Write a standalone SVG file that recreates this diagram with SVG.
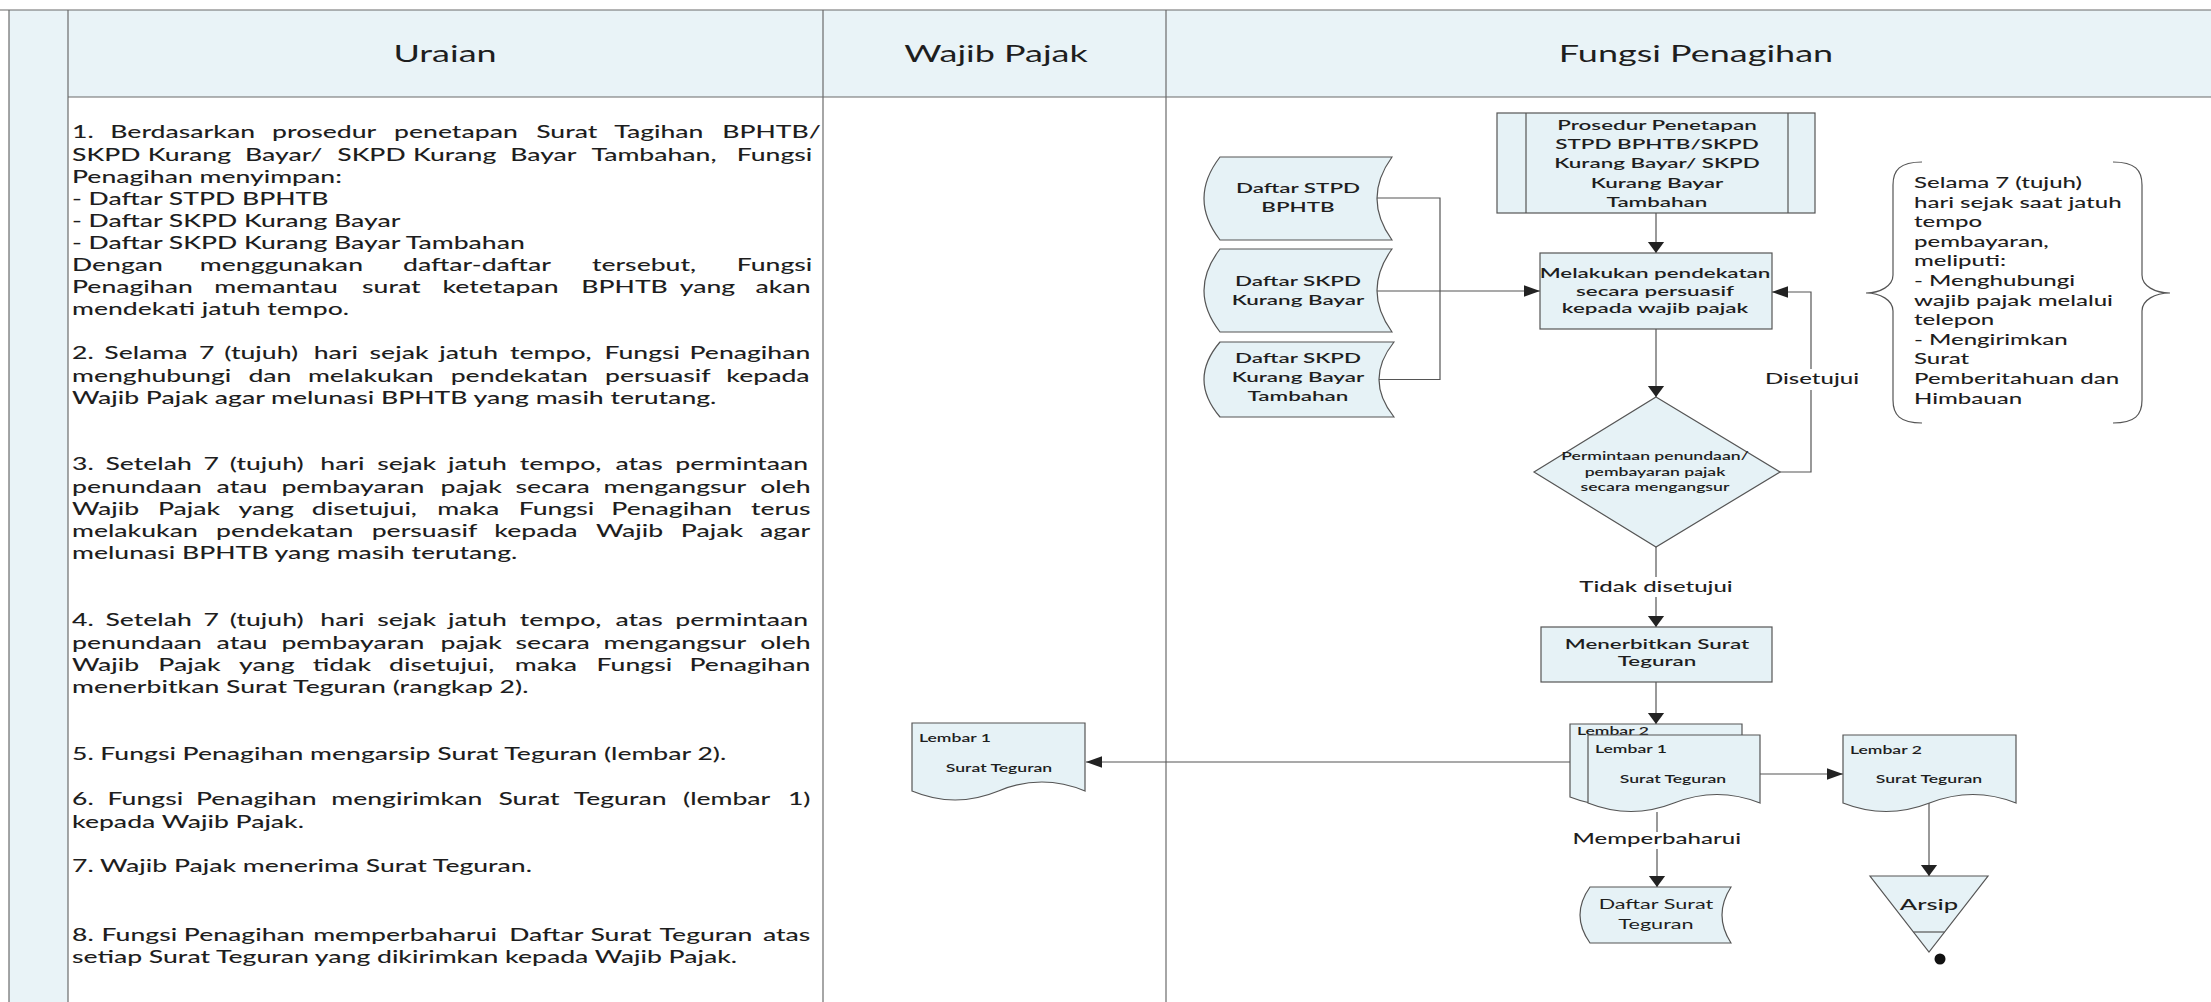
<svg xmlns="http://www.w3.org/2000/svg" width="2211" height="1002" viewBox="0 0 2211 1002">
<defs>
<style>
text { font-family: Lato, "Open Sans", "Liberation Sans", sans-serif; fill: #1e1e1e; }
/* every label is drawn in a horizontally widened face */
.t { transform: scale(1.6, 1); }
.hd { font-size: 22.5px; text-anchor: middle; }
.bd { font-size: 16.6px; font-weight: 500; }
.nd { font-size: 14px; font-weight: 600; text-anchor: middle; }
.sm { font-size: 11px; font-weight: 600; }
.dm { font-size: 11px; font-weight: 600; text-anchor: middle; }
.lb { font-size: 15px; font-weight: 500; text-anchor: middle; }
.nt { font-size: 15px; font-weight: 500; }
.ds { font-size: 13.5px; text-anchor: middle; }
.ar { font-size: 16px; font-weight: 500; text-anchor: middle; }
.mid { text-anchor: middle; }
.shape { fill: #e6f2f6; stroke: #555; stroke-width: 1.2; }
.ln { fill: none; stroke: #555; stroke-width: 1.2; }
.grid { fill: none; stroke: #6b6b6b; stroke-width: 1.2; }
</style>
<marker id="ahV" markerUnits="userSpaceOnUse" viewBox="0 -9 12 18" markerWidth="12" markerHeight="18" refX="11.5" refY="0" orient="auto">
<path d="M0,-8.5 L11.5,0 L0,8.5 Z" fill="#222"/>
</marker>
<marker id="ahH" markerUnits="userSpaceOnUse" viewBox="0 -6 16 12" markerWidth="16" markerHeight="12" refX="16" refY="0" orient="auto">
<path d="M0,-5.8 L16,0 L0,5.8 Z" fill="#222"/>
</marker>
</defs>

<rect width="2211" height="1002" fill="#fff"/>

<!-- table frame: header band, left margin strip, rules -->
<g id="table">
<rect x="68" y="10" width="2143" height="87" fill="#e9f3f7"/>
<rect x="9" y="10" width="59" height="992" fill="#e9f3f7"/>
<line x1="9" y1="10" x2="9" y2="1002" class="grid" stroke-width="1"/>
<line x1="68" y1="10" x2="68" y2="1002" class="grid" stroke-width="1"/>
<line x1="823" y1="10" x2="823" y2="1002" class="grid" stroke="#7d5a5a"/>
<line x1="1166" y1="10" x2="1166" y2="1002" class="grid" stroke="#5b6470"/>
<line x1="68" y1="97" x2="2211" y2="97" class="grid" stroke="#555" stroke-width="2"/>
<line x1="0" y1="10" x2="2211" y2="10" class="grid" stroke="#444" stroke-width="2.5"/>
<text class="hd t" x="278.13" y="62">Uraian</text>
<text class="hd t" x="622.5" y="62">Wajib Pajak</text>
<text class="hd t" x="1060" y="62">Fungsi Penagihan</text>
</g>

<!-- procedure description column -->
<g id="uraian">
<text class="bd t" y="138.5"><tspan x="45">1. </tspan><tspan x="68.94">Berdasarkan </tspan><tspan x="170">prosedur </tspan><tspan x="246.31">penetapan </tspan><tspan x="335.13">Surat </tspan><tspan x="383.88">Tagihan </tspan><tspan x="451.38">BPHTB/</tspan></text>
<text class="bd t" y="160.6"><tspan x="45">SKPD </tspan><tspan x="92.31">Kurang </tspan><tspan x="153.13">Bayar/ </tspan><tspan x="210.75">SKPD </tspan><tspan x="258.06">Kurang </tspan><tspan x="318.88">Bayar </tspan><tspan x="369.63">Tambahan, </tspan><tspan x="460.44">Fungsi</tspan></text>
<text class="bd t" x="45" y="182.7">Penagihan menyimpan:</text>
<text class="bd t" x="45" y="204.8">- Daftar STPD BPHTB</text>
<text class="bd t" x="45" y="226.9">- Daftar SKPD Kurang Bayar</text>
<text class="bd t" x="45" y="249">- Daftar SKPD Kurang Bayar Tambahan</text>
<text class="bd t" y="271.1"><tspan x="45">Dengan </tspan><tspan x="124.88">menggunakan </tspan><tspan x="251.88">daftar-daftar </tspan><tspan x="369.94">tersebut, </tspan><tspan x="460.44">Fungsi</tspan></text>
<text class="bd t" y="293.2"><tspan x="45">Penagihan </tspan><tspan x="133.94">memantau </tspan><tspan x="226.31">surat </tspan><tspan x="276.5">ketetapan </tspan><tspan x="363.31">BPHTB </tspan><tspan x="424.81">yang </tspan><tspan x="472.25">akan</tspan></text>
<text class="bd t" x="45" y="315.3">mendekati jatuh tempo.</text>

<text class="bd t" y="359.5"><tspan x="45">2. </tspan><tspan x="65.19">Selama </tspan><tspan x="124.44">7 </tspan><tspan x="140.19">(tujuh) </tspan><tspan x="196.06">hari </tspan><tspan x="231">sejak </tspan><tspan x="274.5">jatuh </tspan><tspan x="318.75">tempo, </tspan><tspan x="377.81">Fungsi </tspan><tspan x="430.94">Penagihan</tspan></text>
<text class="bd t" y="381.6"><tspan x="45">menghubungi </tspan><tspan x="155.25">dan </tspan><tspan x="192.44">melakukan </tspan><tspan x="281.69">pendekatan </tspan><tspan x="378.13">persuasif </tspan><tspan x="453.94">kepada</tspan></text>
<text class="bd t" x="45" y="403.7">Wajib Pajak agar melunasi BPHTB yang masih terutang.</text>

<text class="bd t" y="470.5"><tspan x="45">3. </tspan><tspan x="65.88">Setelah </tspan><tspan x="127.25">7 </tspan><tspan x="143.63">(tujuh) </tspan><tspan x="200.19">hari </tspan><tspan x="235.81">sejak </tspan><tspan x="280">jatuh </tspan><tspan x="324.88">tempo, </tspan><tspan x="384.63">atas </tspan><tspan x="422.06">permintaan</tspan></text>
<text class="bd t" y="492.6"><tspan x="45">penundaan </tspan><tspan x="135.38">atau </tspan><tspan x="175.88">pembayaran </tspan><tspan x="275.31">pajak </tspan><tspan x="322.25">secara </tspan><tspan x="377.13">mengangsur </tspan><tspan x="475.13">oleh</tspan></text>
<text class="bd t" y="514.7"><tspan x="45">Wajib </tspan><tspan x="98.75">Pajak </tspan><tspan x="149.06">yang </tspan><tspan x="194.88">disetujui, </tspan><tspan x="273.25">maka </tspan><tspan x="324.19">Fungsi </tspan><tspan x="382.06">Penagihan </tspan><tspan x="469.38">terus</tspan></text>
<text class="bd t" y="536.8"><tspan x="45">melakukan </tspan><tspan x="135.06">pendekatan </tspan><tspan x="232.31">persuasif </tspan><tspan x="308.94">kepada </tspan><tspan x="372.5">Wajib </tspan><tspan x="425.5">Pajak </tspan><tspan x="475.06">agar</tspan></text>
<text class="bd t" x="45" y="558.9">melunasi BPHTB yang masih terutang.</text>

<text class="bd t" y="626.5"><tspan x="45">4. </tspan><tspan x="65.88">Setelah </tspan><tspan x="127.25">7 </tspan><tspan x="143.63">(tujuh) </tspan><tspan x="200.19">hari </tspan><tspan x="235.81">sejak </tspan><tspan x="280">jatuh </tspan><tspan x="324.88">tempo, </tspan><tspan x="384.63">atas </tspan><tspan x="422.06">permintaan</tspan></text>
<text class="bd t" y="648.6"><tspan x="45">penundaan </tspan><tspan x="135.38">atau </tspan><tspan x="175.88">pembayaran </tspan><tspan x="275.31">pajak </tspan><tspan x="322.25">secara </tspan><tspan x="377.13">mengangsur </tspan><tspan x="475.13">oleh</tspan></text>
<text class="bd t" y="670.7"><tspan x="45">Wajib </tspan><tspan x="98.94">Pajak </tspan><tspan x="149.44">yang </tspan><tspan x="195.44">tidak </tspan><tspan x="243.19">disetujui, </tspan><tspan x="321.75">maka </tspan><tspan x="372.88">Fungsi </tspan><tspan x="430.94">Penagihan</tspan></text>
<text class="bd t" x="45" y="692.8">menerbitkan Surat Teguran (rangkap 2).</text>

<text class="bd t" x="45" y="760">5. Fungsi Penagihan mengarsip Surat Teguran (lembar 2).</text>

<text class="bd t" y="805.5"><tspan x="45">6. </tspan><tspan x="67.25">Fungsi </tspan><tspan x="122.44">Penagihan </tspan><tspan x="207.06">mengirimkan </tspan><tspan x="311.5">Surat </tspan><tspan x="358.56">Teguran </tspan><tspan x="426.88">(lembar </tspan><tspan x="492.44">1)</tspan></text>
<text class="bd t" x="45" y="827.6">kepada Wajib Pajak.</text>

<text class="bd t" x="45" y="871.8">7. Wajib Pajak menerima Surat Teguran.</text>

<text class="bd t" y="941"><tspan x="45">8. </tspan><tspan x="63.5">Fungsi </tspan><tspan x="114.88">Penagihan </tspan><tspan x="195.75">memperbaharui </tspan><tspan x="318.25">Daftar </tspan><tspan x="369">Surat </tspan><tspan x="412.25">Teguran </tspan><tspan x="476.81">atas</tspan></text>
<text class="bd t" x="45" y="963.1">setiap Surat Teguran yang dikirimkan kepada Wajib Pajak.</text>
</g>

<!-- flow connectors and their labels -->
<g id="connectors">
<path class="ln" d="M1377,198 H1440 V379.5 H1379"/>
<path class="ln" d="M1377,291 H1540" marker-end="url(#ahH)"/>
<path class="ln" d="M1656,213 V253" marker-end="url(#ahV)"/>
<path class="ln" d="M1656,329 V397" marker-end="url(#ahV)"/>
<path class="ln" d="M1780,472 H1811 V390"/>
<path class="ln" d="M1811,369 V292 H1772" marker-end="url(#ahH)"/>
<text class="lb t" x="1132.5" y="384">Disetujui</text>
<path class="ln" d="M1656,547 V577"/>
<path class="ln" d="M1656,597 V627" marker-end="url(#ahV)"/>
<text class="lb t" x="1035" y="592">Tidak disetujui</text>
<path class="ln" d="M1656,682 V724" marker-end="url(#ahV)"/>
<path class="ln" d="M1570,762 H1086" marker-end="url(#ahH)"/>
<path class="ln" d="M1760,774 H1843" marker-end="url(#ahH)"/>
<path class="ln" d="M1657,812 V832"/>
<path class="ln" d="M1657,849 V887" marker-end="url(#ahV)"/>
<text class="lb t" x="1035.5" y="844" font-weight="400">Memperbaharui</text>
<path class="ln" d="M1929,803 V876" marker-end="url(#ahV)"/>
</g>

<g id="n-prosedur">
<rect class="shape" x="1497" y="113" width="318" height="100"/>
<line class="ln" x1="1526" y1="113" x2="1526" y2="213"/>
<line class="ln" x1="1788" y1="113" x2="1788" y2="213"/>
<text class="nd t" x="1035.63" y="130">Prosedur Penetapan</text>
<text class="nd t" x="1035.63" y="149.3">STPD BPHTB/SKPD</text>
<text class="nd t" x="1035.63" y="168.3">Kurang Bayar/ SKPD</text>
<text class="nd t" x="1035.63" y="187.7">Kurang Bayar</text>
<text class="nd t" x="1035.63" y="206.7">Tambahan</text>
</g>

<g id="n-daftar-stpd">
<path class="shape" d="M1220,157 H1392 Q1362,198.5 1392,240 H1220 Q1188,198.5 1220,157 Z"/>
<text class="nd t" x="811.25" y="193.5">Daftar STPD</text>
<text class="nd t" x="811.25" y="212">BPHTB</text>
</g>

<g id="n-daftar-skpd-kb">
<path class="shape" d="M1220,249 H1392 Q1362,290.5 1392,332 H1220 Q1188,290.5 1220,249 Z"/>
<text class="nd t" x="811.25" y="286.5">Daftar SKPD</text>
<text class="nd t" x="811.25" y="305">Kurang Bayar</text>
</g>

<g id="n-daftar-skpd-kbt">
<path class="shape" d="M1220,342 H1394 Q1364,379.5 1394,417 H1220 Q1188,379.5 1220,342 Z"/>
<text class="nd t" x="811.25" y="363.5">Daftar SKPD</text>
<text class="nd t" x="811.25" y="382.5">Kurang Bayar</text>
<text class="nd t" x="811.25" y="401.5">Tambahan</text>
</g>

<g id="n-melakukan">
<rect class="shape" x="1540" y="253" width="232" height="76"/>
<text class="nd t" x="1034.38" y="278.5" font-size="13.5">Melakukan pendekatan</text>
<text class="nd t" x="1034.38" y="296.5" font-size="13.5">secara persuasif</text>
<text class="nd t" x="1034.38" y="313.5" font-size="13.5">kepada wajib pajak</text>
</g>

<g id="n-permintaan">
<path class="shape" d="M1656,397 L1780,472 L1656,547 L1534,472 Z"/>
<text class="dm t" x="1034.38" y="460">Permintaan penundaan/</text>
<text class="dm t" x="1034.38" y="476">pembayaran pajak</text>
<text class="dm t" x="1034.38" y="491">secara mengangsur</text>
</g>

<g id="n-catatan">
<path class="ln" d="M1922,162 C1900,162 1893,170 1893,185 V275 C1893,286 1880,293 1866,293 C1880,293 1893,300 1893,311 V400 C1893,415 1900,423 1922,423"/>
<path class="ln" d="M2113,162 C2135,162 2142,170 2142,185 V275 C2142,286 2155,293 2170,293 C2155,293 2142,300 2142,311 V400 C2142,415 2135,423 2113,423"/>
<text class="nt t" x="1196.25" y="188">Selama 7 (tujuh)</text>
<text class="nt t" x="1196.25" y="207.6">hari sejak saat jatuh</text>
<text class="nt t" x="1196.25" y="227.2">tempo</text>
<text class="nt t" x="1196.25" y="246.8">pembayaran,</text>
<text class="nt t" x="1196.25" y="266.4">meliputi:</text>
<text class="nt t" x="1196.25" y="286">- Menghubungi</text>
<text class="nt t" x="1196.25" y="305.6">wajib pajak melalui</text>
<text class="nt t" x="1196.25" y="325.2">telepon</text>
<text class="nt t" x="1196.25" y="344.8">- Mengirimkan</text>
<text class="nt t" x="1196.25" y="364.4">Surat</text>
<text class="nt t" x="1196.25" y="384">Pemberitahuan dan</text>
<text class="nt t" x="1196.25" y="403.6">Himbauan</text>
</g>

<g id="n-menerbitkan">
<rect class="shape" x="1541" y="627" width="231" height="55"/>
<text class="nd t" x="1035.63" y="649.5">Menerbitkan Surat</text>
<text class="nd t" x="1035.63" y="666.5">Teguran</text>
</g>

<g id="n-surat-teguran">
<path class="shape" d="M1570,724 H1742 V797 Q1699,780 1656,797 T1570,797 Z"/>
<text class="sm t" x="985.63" y="735">Lembar 2</text>
<path class="shape" d="M1588,735 H1760 V803 Q1717,786 1674,803 T1588,803 Z"/>
<text class="sm t" x="996.88" y="753">Lembar 1</text>
<text class="sm mid t" x="1045.63" y="783">Surat Teguran</text>
</g>

<g id="n-wp-lembar1">
<path class="shape" d="M912,723 H1085 V791 Q1042,773 998.5,791 T912,791 Z"/>
<text class="sm t" x="574.38" y="742">Lembar 1</text>
<text class="sm mid t" x="624.38" y="772">Surat Teguran</text>
</g>

<g id="n-lembar2">
<path class="shape" d="M1843,735 H2016 V803 Q1973,786 1929.5,803 T1843,803 Z"/>
<text class="sm t" x="1156.25" y="754">Lembar 2</text>
<text class="sm mid t" x="1205.63" y="783">Surat Teguran</text>
</g>

<g id="n-arsip">
<path class="shape" d="M1870,876 H1988 L1929,952 Z"/>
<line class="ln" x1="1913.5" y1="932" x2="1944.5" y2="932"/>
<text class="ar t" x="1205.63" y="910">Arsip</text>
<circle cx="1940" cy="959" r="5.5" fill="#111"/>
</g>

<g id="n-daftar-surat-teguran">
<path class="shape" d="M1590,887 H1731 Q1713,915 1731,943 H1590 Q1570,915 1590,887 Z"/>
<text class="ds t" x="1035" y="909">Daftar Surat</text>
<text class="ds t" x="1035" y="929">Teguran</text>
</g>
</svg>
